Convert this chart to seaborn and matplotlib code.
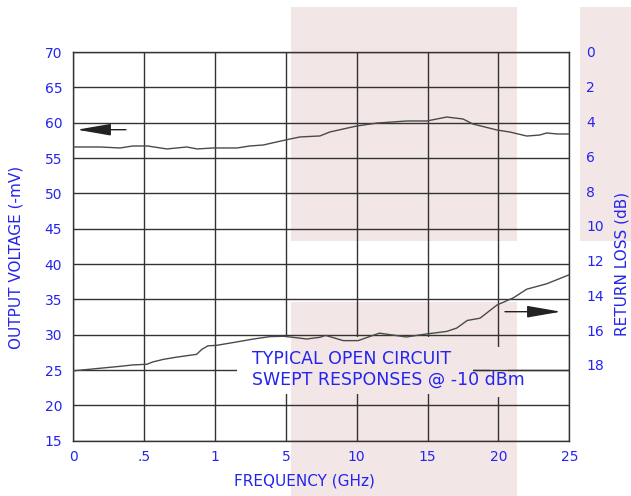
import numpy as np
import pandas as pd
import matplotlib
matplotlib.use("Agg")
import matplotlib.pyplot as plt
import seaborn as sns
from matplotlib.patches import Rectangle, FancyArrowPatch

# ---- data ----
tick_freqs = [0, 0.5, 1, 5, 10, 15, 20, 25]
tick_labels = ["0", ".5", "1", "5", "10", "15", "20", "25"]
left_ticks = [15, 20, 25, 30, 35, 40, 45, 50, 55, 60, 65, 70]
right_ticks = [0, 2, 4, 6, 8, 10, 12, 14, 16, 18]

volt_freq = [0, 0.19, 0.33, 0.42, 0.525, 0.66, 0.73, 0.80, 0.875, 0.985, 2.24, 2.96,
             3.72, 4.48, 5.3, 6.0, 7.4, 8.1, 10, 11.45, 13.55, 14.95, 16.35, 17.5,
             18.2, 19.9, 20.8, 22.0, 22.9, 23.4, 24.15, 25]
volt_mv = [56.56, 56.56, 56.42, 56.70, 56.70, 56.28, 56.42, 56.56, 56.28, 56.42, 56.42, 56.70,
           56.84, 57.27, 57.69, 57.98, 58.12, 58.68, 59.53, 59.95, 60.24, 60.24, 60.80, 60.52,
           59.81, 58.96, 58.68, 58.11, 58.25, 58.54, 58.40, 58.40]

rl_freq = [0, 0.19, 0.33, 0.42, 0.52, 0.56, 0.635, 0.73, 0.87, 0.906, 0.95, 1.1, 2.03,
           3.16, 4.1, 4.86, 5.5, 6.5, 6.7, 7.4, 7.8, 9.05, 10.1, 11.6, 13.5, 14.9, 16.35,
           17.05, 17.8, 18.7, 19.9, 21.05, 22.0, 23.4, 25]
rl_db = [18.35, 18.20, 18.09, 18.01, 17.97, 17.84, 17.69, 17.56, 17.40, 17.12, 16.91, 16.88,
         16.72, 16.52, 16.38, 16.36, 16.42, 16.52, 16.49, 16.42, 16.31, 16.61, 16.61, 16.18,
         16.40, 16.23, 16.08, 15.89, 15.45, 15.32, 14.56, 14.15, 13.65, 13.34, 12.82]

volt_df = pd.DataFrame({"freq": volt_freq, "mv": volt_mv})
rl_df = pd.DataFrame({"freq": rl_freq, "db": rl_db})

BLUE = "#2424ee"
GRID = "#333333"
PINK = "#f3e6e6"
CURVE = "#4a4a4a"

sns.set_style("white")
plt.rcParams["font.family"] = ["DejaVu Sans"]

W, H = 631, 496
fig = plt.figure(figsize=(W / 100, H / 100), dpi=100)

def fx(px):
    return px / W

def fy(py):
    return 1 - py / H

# axes placement (pixels)
L, R, T, B = 73.3, 569.3, 52.0, 440.7
ax = fig.add_axes([fx(L), fy(B), (R - L) / W, (B - T) / H])
ax.patch.set_alpha(0)

# pink background bands (figure level, behind axes)
for (x0, y0, x1, y1) in [(291, 7.3, 517.3, 240.7), (291, 302.3, 517.3, 496), (580, 7.3, 631, 240.7)]:
    fig.add_artist(Rectangle((fx(x0), fy(y1)), (x1 - x0) / W, (y1 - y0) / H,
                             transform=fig.transFigure, facecolor=PINK, edgecolor="none", zorder=-5))

# piecewise frequency scale
idx = np.arange(len(tick_freqs), dtype=float)
def fwd(x):
    return np.interp(x, tick_freqs, idx)
def inv(x):
    return np.interp(x, idx, tick_freqs)
ax.set_xscale("function", functions=(fwd, inv))
ax.set_xlim(0, 25)
ax.set_ylim(15, 70)

ax.set_xticks(tick_freqs, tick_labels)
ax.set_yticks(left_ticks)
ax.grid(True, color=GRID, linewidth=1.0, zorder=1)
ax.set_axisbelow(True)
for s in ax.spines.values():
    s.set_color(GRID)
    s.set_linewidth(1.0)
ax.tick_params(axis="both", length=0, labelsize=10, labelcolor=BLUE)
ax.tick_params(axis="y", pad=8)
ax.tick_params(axis="x", pad=7)

sns.lineplot(data=volt_df, x="freq", y="mv", ax=ax, color=CURVE, linewidth=1.0, zorder=4)
ax.set_xlabel("")
ax.set_ylabel("")

ax2 = ax.twinx()
ax2.patch.set_alpha(0)
sns.lineplot(data=rl_df, x="freq", y="db", ax=ax2, color=CURVE, linewidth=1.0, zorder=4)
ax2.set_ylim(22.37, 0.28)
ax2.set_yticks(right_ticks)
ax2.tick_params(axis="y", length=0, labelsize=10, labelcolor=BLUE, pad=12)
ax2.grid(False)
ax2.set_xlabel("")
ax2.set_ylabel("")
for s in ax2.spines.values():
    s.set_visible(False)

# boxes hiding the grid behind the note
def axrect(x0, y0, x1, y1, color):
    ax.add_patch(Rectangle(((x0 - L) / (R - L), (B - y1) / (B - T)), (x1 - x0) / (R - L),
                           (y1 - y0) / (B - T), transform=ax.transAxes,
                           facecolor=color, edgecolor="none", zorder=2))
axrect(237, 336.5, 291, 394, "white")
axrect(291, 336.5, 473, 394, PINK)
axrect(490, 347, 508, 397, PINK)
ax.axhline(25, xmin=(473 - L) / (R - L), xmax=1, color=GRID, linewidth=1.0, zorder=3)

ax.text((252 - L) / (R - L), (B - 369.5) / (B - T), "TYPICAL OPEN CIRCUIT\nSWEPT RESPONSES @ -10 dBm",
        transform=ax.transAxes, ha="left", va="center", fontsize=12.5, color=BLUE,
        linespacing=1.2, zorder=5)

# arrows
def arrow(x0, x1, y):
    a = FancyArrowPatch((fx(x0), fy(y)), (fx(x1), fy(y)), transform=fig.transFigure,
                        arrowstyle="-|>,head_length=1.5,head_width=0.26", mutation_scale=14,
                        color="#222222", linewidth=1.0, shrinkA=0, shrinkB=0, zorder=6)
    fig.add_artist(a)
arrow(126, 77, 129.7)
arrow(505, 561, 311.7)

fig.text(fx(16), fy(257), "OUTPUT VOLTAGE (-mV)", rotation=90, ha="center", va="center",
         fontsize=11, color=BLUE)
fig.text(fx(622), fy(264), "RETURN LOSS (dB)", rotation=90, ha="center", va="center",
         fontsize=11, color=BLUE)
fig.text(fx(304), fy(481), "FREQUENCY (GHz)", ha="center", va="center", fontsize=11, color=BLUE)

fig.savefig("out.png", dpi=100)
